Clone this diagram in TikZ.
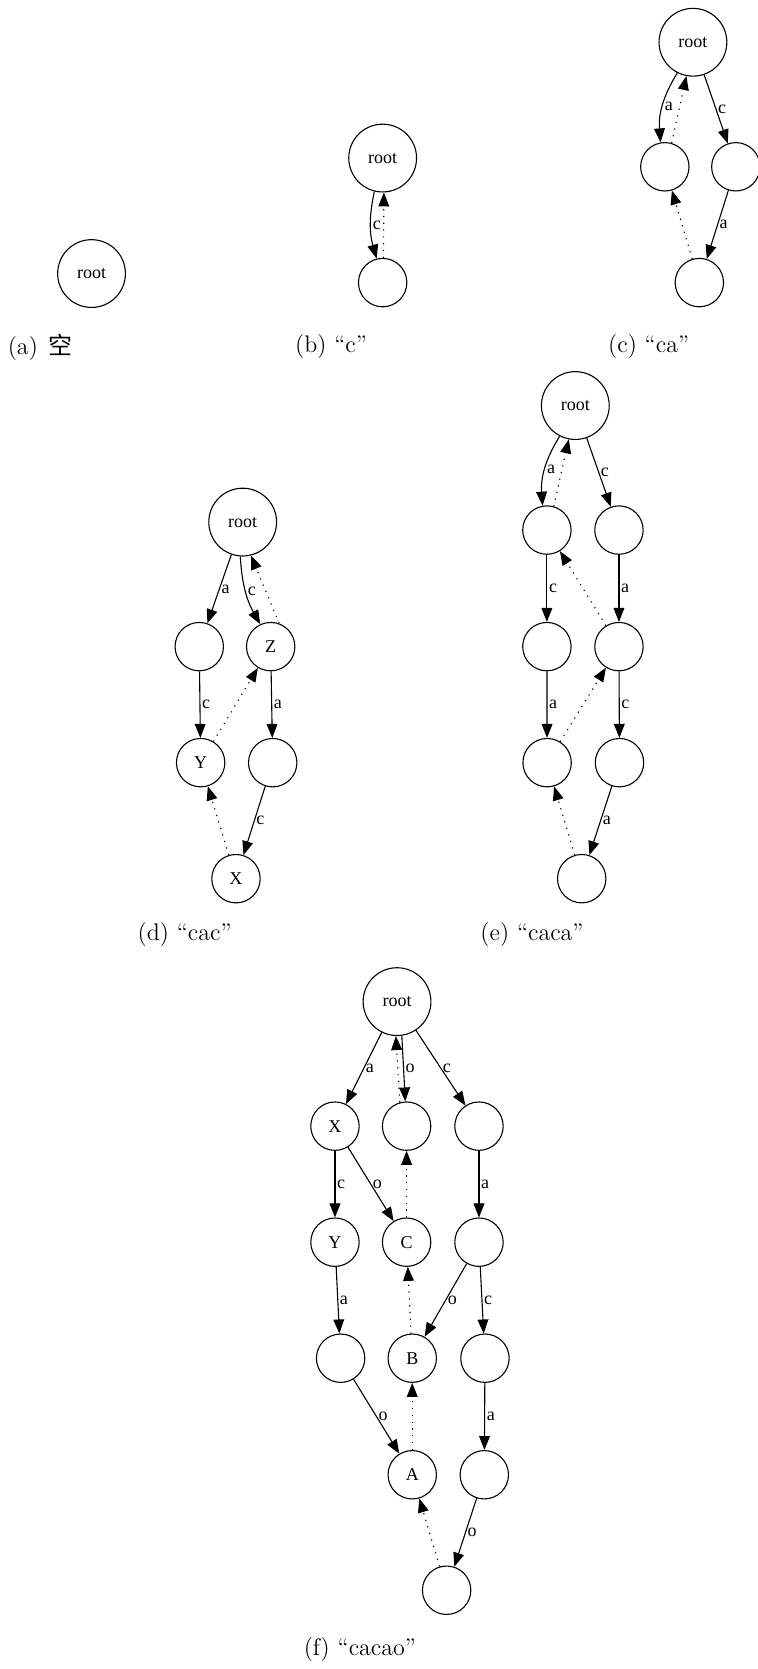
\documentclass[tikz,border=0pt]{standalone}
\usepackage{fontspec}
\newfontfamily\tmfont{Liberation Serif}
\newfontfamily\cjkfont{Noto Sans CJK SC}
\usetikzlibrary{arrows.meta}
\begin{document}
\begin{tikzpicture}[x=0.5323pt,y=-0.5323pt,
  big/.style={circle,draw,line width=0.55pt,minimum size=33.9pt,inner sep=0pt,font=\tmfont\fontsize{9}{10}\selectfont},
  sm/.style={big,minimum size=24.2pt},
  ed/.style={line width=0.55pt,-{Triangle[length=7pt,width=5.4pt]}},
  lk/.style={ed,dash pattern=on 0.6pt off 2.8pt},
  lb/.style={font=\tmfont\fontsize{9}{10}\selectfont,inner sep=0.8pt,right},
  captxt/.style={font=\fontsize{12}{14}\selectfont,anchor=west,inner sep=0pt}]
\useasboundingbox (0,0) rectangle (712,1568);

% (a)
\node[big] (a0) at (86,257) {root};
\node[captxt] (ca) at (7,326) {(a)\hspace{0.45em}{\cjkfont 空}};

% (b)
\node[big] (b0) at (359.5,148.5) {root};
\node[sm] (b1) at (359.5,265.5) {};
\draw[ed] (b0.-104) to[bend right=14] node[lb]{c} (b1.104);
\draw[lk] (b1.88) -- (b0.-88);
\node[captxt] (cb) at (277,326) {(b) “c”};

% (c)
\node[big] (c0) at (651,39.7) {root};
\node[sm] (c1) at (624.6,156.7) {};
\node[sm] (c2) at (691.3,156.7) {};
\node[sm] (c3) at (657,265.5) {};
\draw[ed] (c0.-117) to[bend right=18] node[lb]{a} (c1.100);
\draw[lk] (c1.74) -- (c0.-101);
\draw[ed] (c0) -- node[lb]{c} (c2);
\draw[ed] (c2) -- node[lb]{a} (c3);
\draw[lk] (c3) -- (c1);
\node[captxt] (cc) at (571,326) {(c) “ca”};

% (d)
\node[big] (d0) at (228,490.5) {root};
\node[sm] (d1) at (187.2,607.5) {};
\node[sm] (dZ) at (254.3,607.5) {Z};
\node[sm] (dY) at (188.5,716.5) {Y};
\node[sm] (d4) at (256.2,716.5) {};
\node[sm] (dX) at (221.7,825.5) {X};
\draw[ed] (d0) -- node[lb]{a} (d1);
\draw[ed] (d0.-94) to[bend right=13] node[lb]{c} (dZ.115);
\draw[lk] (dZ.70) -- (d0.-76);
\draw[ed] (d1) -- node[lb]{c} (dY);
\draw[ed] (dZ) -- node[lb]{a} (d4);
\draw[lk] (dY) -- (dZ);
\draw[ed] (d4) -- node[lb]{c} (dX);
\draw[lk] (dX) -- (dY);
\node[captxt] (cd) at (129,878) {(d) “cac”};

% (e)
\node[big] (e0) at (540.5,381) {root};
\node[sm] (e1) at (513.8,498) {};
\node[sm] (e2) at (581.5,498) {};
\node[sm] (e3) at (513.8,607.5) {};
\node[sm] (e4) at (581.5,607.5) {};
\node[sm] (e5) at (514,716.5) {};
\node[sm] (e6) at (582,716.5) {};
\node[sm] (e7) at (546.5,825.5) {};
\draw[ed] (e0.-117) to[bend right=18] node[lb]{a} (e1.100);
\draw[lk] (e1.74) -- (e0.-101);
\draw[ed] (e0) -- node[lb]{c} (e2);
\draw[ed] (e1) -- node[lb]{c} (e3);
\draw[ed] (e2) -- node[lb]{a} (e4);
\draw[lk] (e4) -- (e1);
\draw[ed] (e3) -- node[lb]{a} (e5);
\draw[ed] (e4) -- node[lb]{c} (e6);
\draw[lk] (e5) -- (e4);
\draw[ed] (e6) -- node[lb]{a} (e7);
\draw[lk] (e7) -- (e5);
\node[captxt] (ce) at (451,878) {(e) “caca”};

% (f)
\node[big] (f0) at (373,941) {root};
\node[sm] (fX) at (314.7,1058) {X};
\node[sm] (fm) at (382,1058) {};
\node[sm] (f1) at (450,1058) {};
\node[sm] (fY) at (314.7,1167) {Y};
\node[sm] (fC) at (382,1167) {C};
\node[sm] (f2) at (450,1167) {};
\node[sm] (f3) at (320,1276) {};
\node[sm] (fB) at (387.3,1276) {B};
\node[sm] (f4) at (455.6,1276) {};
\node[sm] (fA) at (387.3,1385.5) {A};
\node[sm] (f5) at (455,1385.5) {};
\node[sm] (f6) at (419.6,1494) {};
\draw[ed] (f0) -- node[lb]{a} (fX);
\draw[ed] (f0.-82) -- node[lb]{o} (fm.93);
\draw[lk] (fm.106) -- (f0.-92);
\draw[ed] (f0) -- node[lb]{c} (f1);
\draw[ed] (fX) -- node[lb]{c} (fY);
\draw[ed] (fX) -- node[lb]{o} (fC);
\draw[lk] (fC) -- (fm);
\draw[ed] (f1) -- node[lb]{a} (f2);
\draw[ed] (fY) -- node[lb]{a} (f3);
\draw[ed] (f2) -- node[lb]{o} (fB);
\draw[ed] (f2) -- node[lb]{c} (f4);
\draw[lk] (fB) -- (fC);
\draw[ed] (f3) -- node[lb]{o} (fA);
\draw[lk] (fA) -- (fB);
\draw[ed] (f4) -- node[lb]{a} (f5);
\draw[ed] (f5) -- node[lb]{o} (f6);
\draw[lk] (f6) -- (fA);
\node[captxt] (cf) at (285,1550) {(f) “cacao”};
\end{tikzpicture}
\end{document}
